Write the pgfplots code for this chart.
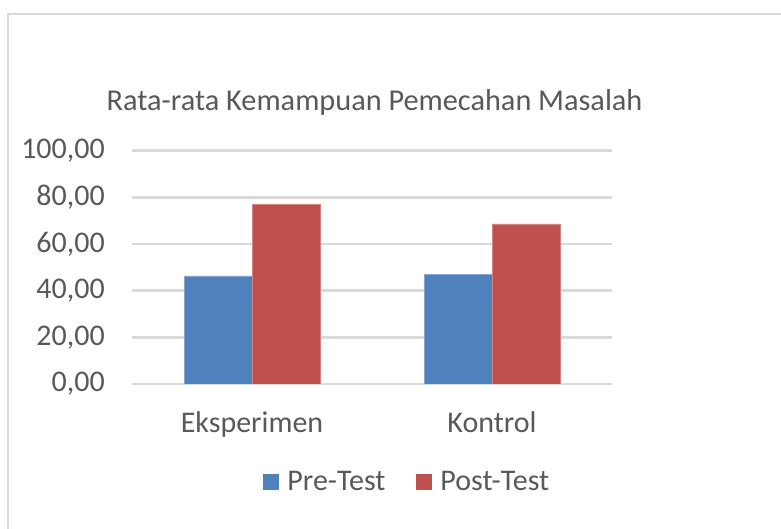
\documentclass[border=0pt]{standalone}
\usepackage{fontspec}
\setmainfont{Carlito}
\usepackage{pgfplots}
\pgfplotsset{compat=1.18}
\definecolor{preblue}{HTML}{4F81BD}
\definecolor{postred}{HTML}{C0504D}
\definecolor{txtgray}{HTML}{595959}
\definecolor{gridgray}{HTML}{D9D9D9}
\begin{document}
\begin{tikzpicture}[x=1pt,y=1pt]
\useasboundingbox (0,0) rectangle (781,529);
\fill[white] (0,0) rectangle (781,529);
\draw[gridgray,line width=2.2pt] (8,-5) -- (8,515) -- (790,515);
\node[txtgray,font=\fontsize{30.3}{36}\selectfont] at (374.5,427) {Rata-rata Kemampuan Pemecahan Masalah};
\begin{axis}[
  at={(132pt,145pt)}, anchor=south west,
  scale only axis, width=480pt, height=233.3pt,
  ybar=0pt, bar width=68pt,
  xmin=-0.5, xmax=1.5, ymin=0, ymax=100,
  xtick={0,1}, xticklabels={Eksperimen,Kontrol},
  ytick={0,20,40,60,80,100},
  axis line style={draw=none},
  major tick length=0pt,
  ymajorgrids, grid style={gridgray,line width=2.6pt},
  /pgf/number format/assume math mode=true,
  yticklabel={\pgfmathprintnumber[fixed,fixed zerofill,precision=2,use comma]{\tick}},
  ticklabel style={txtgray,font=\fontsize{30}{36}\selectfont},
  yticklabel style={anchor=east,inner sep=0pt,xshift=-27pt},
  xticklabel style={anchor=north,inner sep=0pt,yshift=-27pt},
  legend columns=2,
  legend style={draw=none,fill=none,at={(0.5715,-0.42)},anchor=center,
    font=\fontsize{30}{36}\selectfont,text=txtgray,
    nodes={inner sep=0pt},
    /tikz/every odd column/.append style={column sep=8pt},
    /tikz/every even column/.append style={column sep=31pt},
    inner sep=0pt},
  legend image code/.code={\fill[#1,draw=none] (0pt,-8pt) rectangle (16pt,8pt);},
]
\addplot[fill=preblue,draw=preblue!70!white] coordinates {(0,46.3) (1,47.0)};
\addplot[fill=postred,draw=postred!70!white] coordinates {(0,76.9) (1,68.6)};
\legend{Pre-Test,Post-Test}
\end{axis}
\end{tikzpicture}
\end{document}
